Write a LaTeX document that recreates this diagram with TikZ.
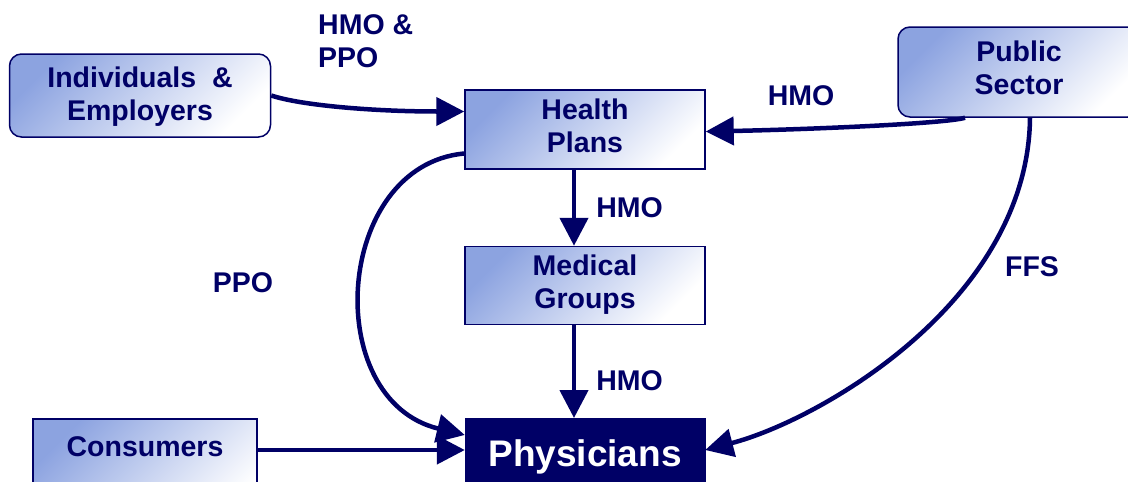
\documentclass[tikz,border=0pt]{standalone}
\usepackage{fontspec}
\setmainfont{Liberation Sans}
\usetikzlibrary{arrows.meta}
\usetikzlibrary{positioning}
\definecolor{navy}{rgb}{0,0,0.4}
\definecolor{blueish}{rgb}{0.55,0.64,0.88}
\tikzset{%
  bigfont/.style={font=\fontsize{28.5}{33}\selectfont\bfseries},
  planbox/.style={bigfont, rectangle, draw=navy, line width=1.5pt, text=navy, align=center, inner sep=0pt,
    shading=axis, top color=blueish, bottom color=white, shading angle=45},
  roundbox/.style={planbox, rounded corners=12pt},
  twoline/.style={text height=53.4pt, text depth=7pt},
  docbox/.style={rectangle, draw=navy, fill=navy, text=white, inner sep=0pt, font=\fontsize{37}{40}\selectfont\bfseries},
  lbl/.style={bigfont, text=navy, inner sep=0pt},
  flow/.style={draw=navy, line width=4.5pt, -{Triangle[length=28pt,width=28pt]}}
}

\begin{document}
\begin{tikzpicture}[x=1pt, y=-1pt]
  \useasboundingbox (0,0) rectangle (1128,482);
  \clip (0,0) rectangle (1128,482);

  % boxes
  \node [roundbox, twoline, text depth=3pt, minimum width=261, minimum height=83] (ind) at (140,95.5) {Individuals\ \ \&\\Employers};
  \node [planbox, twoline, minimum width=240, minimum height=79] (hp) at (585,129.5) {Health\\Plans};
  \node [planbox, twoline, minimum width=240, minimum height=78, below=76pt of hp] (mg) {Medical\\Groups};
  \node [roundbox, twoline, text depth=9pt, minimum width=242, minimum height=90] (ps) at (1019,72) {Public\\Sector};
  \node [docbox, anchor=north, minimum width=240, text height=48, text depth=70] (phy) at (585,418) {Physicians};
  \node [planbox, anchor=north, minimum width=224, text height=38, text depth=70] (con) at (145,418) {Consumers};

  % money flows
  \draw [flow] (ind.east) .. controls +(30,10) and +(-90,0) .. ([yshift=18pt]hp.west);
  \draw [flow] ([xshift=-54pt]ps.south) .. controls +(-20,6) and +(100,-2) .. ([yshift=-2pt]hp.east);
  \draw [flow] ([xshift=-11pt]hp.south) -- node[lbl, anchor=west, xshift=20pt] (hmoB) {HMO} ([xshift=-11pt]mg.north);
  \draw [flow] ([xshift=-11pt]mg.south) -- node[lbl, pos=0.6, anchor=west, xshift=20pt] (hmoC) {HMO} ([xshift=-11pt]phy.north);
  \draw [flow] ([yshift=-24pt]hp.west) .. controls +(-130,12) and +(-145,-35) .. ([yshift=-17pt]phy.north west);
  \draw [flow] ([xshift=11pt]ps.south) .. controls +(-2,183) and +(115,-30) .. ([yshift=-32pt]phy.north east);
  \draw [flow] ([yshift=-32pt]con.north east) -- ([yshift=-32pt]phy.north west);

  % free labels
  \node [lbl, align=left, anchor=west] (hmoppo) at (318,41) {HMO \&\\PPO};
  \node [lbl] (hmoA) at (801,96) {HMO};
  \node [lbl] (ppo) at (243,283) {PPO};
  \node [lbl] (ffs) at (1032,267) {FFS};
\end{tikzpicture}
\end{document}
